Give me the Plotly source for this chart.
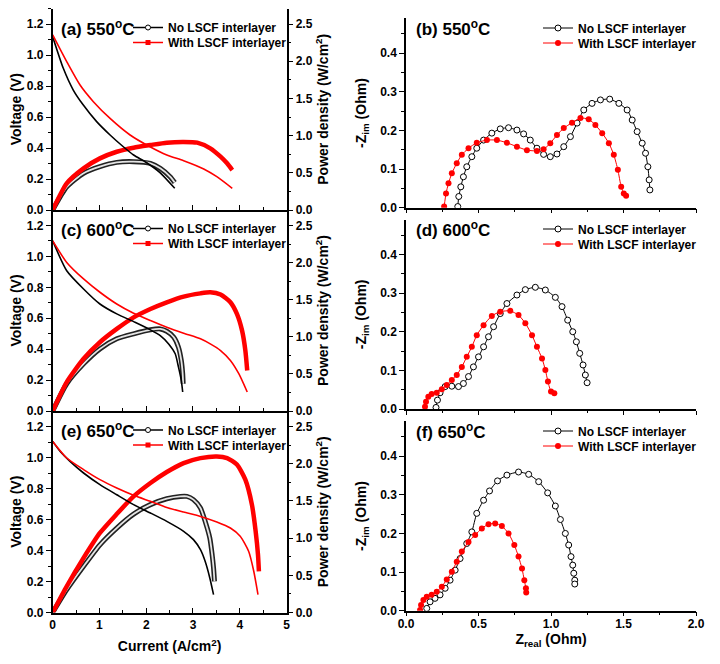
import plotly.graph_objects as go

FONT = "Liberation Sans, Arial, sans-serif"
W, H = 720, 664
OFF = 8  # page body margin offset of the rendered figure
RED = "#ff0000"

# ---------------- I-V-P data (current A/cm2, voltage V, power W/cm2) ----------------
# 550 C
a_no_I = [0, 0.227, 0.44, 0.655, 0.94, 1.227, 1.51, 1.73, 2.01, 2.3, 2.61]
a_no_V = [1.118, 0.914, 0.774, 0.677, 0.57, 0.484, 0.408, 0.355, 0.305, 0.24, 0.14]
a_with_I = [0, 0.3, 0.585, 0.87, 1.227, 1.655, 2.08, 2.44, 2.8, 3.23, 3.51, 3.84]
a_with_V = [1.13, 0.957, 0.806, 0.699, 0.591, 0.484, 0.408, 0.355, 0.318, 0.265, 0.215, 0.14]
a_no_PI = [0, 0.3, 0.66, 1.01, 1.37, 1.73, 2.09, 2.3, 2.51, 2.61]
a_no_P = [0, 0.31, 0.494, 0.583, 0.64, 0.65, 0.627, 0.56, 0.448, 0.37]
a_with_PI = [0, 0.3, 0.66, 1.01, 1.37, 1.73, 2.09, 2.44, 2.8, 3.09, 3.37, 3.59, 3.73, 3.84]
a_with_P = [0, 0.358, 0.56, 0.694, 0.783, 0.837, 0.873, 0.905, 0.915, 0.905, 0.829, 0.717, 0.627, 0.537]

# 600 C
c_no_I = [0, 0.3, 0.66, 1.01, 1.37, 1.76, 2.09, 2.3, 2.48, 2.62, 2.69, 2.75, 2.78]
c_no_V = [1.10, 0.907, 0.789, 0.692, 0.628, 0.574, 0.525, 0.488, 0.434, 0.37, 0.284, 0.198, 0.123]
c_with_I = [0, 0.3, 0.66, 1.01, 1.37, 1.73, 2.09, 2.44, 2.8, 3.16, 3.37, 3.59, 3.8, 3.98, 4.16]
c_with_V = [1.10, 0.961, 0.854, 0.768, 0.692, 0.632, 0.585, 0.542, 0.503, 0.467, 0.434, 0.391, 0.327, 0.241, 0.123]
c_no_PI = [0, 0.3, 0.66, 1.01, 1.37, 1.73, 2.09, 2.3, 2.44, 2.59, 2.69, 2.75, 2.78, 2.79]
c_no_P = [0, 0.367, 0.635, 0.837, 0.973, 1.04, 1.094, 1.106, 1.075, 0.994, 0.86, 0.681, 0.502, 0.367]
c_with_PI = [0, 0.3, 0.66, 1.01, 1.37, 1.73, 2.09, 2.44, 2.8, 3.16, 3.37, 3.59, 3.8, 3.94, 4.05, 4.12, 4.16]
c_with_P = [0, 0.39, 0.704, 0.927, 1.106, 1.262, 1.375, 1.465, 1.542, 1.585, 1.6, 1.569, 1.465, 1.308, 1.083, 0.815, 0.546]

# 650 C
e_no_I = [0, 0.157, 0.37, 0.66, 1.01, 1.37, 1.73, 2.09, 2.44, 2.8, 3.01, 3.16, 3.26, 3.36, 3.44]
e_no_V = [1.104, 1.04, 0.975, 0.9, 0.825, 0.76, 0.696, 0.642, 0.588, 0.524, 0.47, 0.405, 0.33, 0.223, 0.115]
e_with_I = [0, 0.3, 0.66, 1.01, 1.37, 1.73, 2.09, 2.44, 2.8, 3.16, 3.51, 3.8, 4.01, 4.19, 4.3, 4.39]
e_with_V = [1.104, 0.997, 0.922, 0.857, 0.803, 0.756, 0.717, 0.678, 0.648, 0.62, 0.584, 0.545, 0.492, 0.395, 0.266, 0.115]
e_no_PI = [0, 0.3, 0.66, 1.01, 1.37, 1.73, 2.09, 2.44, 2.73, 2.87, 3.01, 3.16, 3.26, 3.36, 3.41, 3.44, 3.46]
e_no_P = [0, 0.306, 0.621, 0.91, 1.135, 1.323, 1.45, 1.529, 1.56, 1.56, 1.517, 1.404, 1.225, 1.0, 0.777, 0.598, 0.419]
e_with_PI = [0, 0.3, 0.66, 1.01, 1.37, 1.73, 2.09, 2.44, 2.8, 3.16, 3.51, 3.73, 3.94, 4.12, 4.26, 4.34, 4.39, 4.41]
e_with_P = [0, 0.352, 0.733, 1.069, 1.323, 1.56, 1.74, 1.888, 2.008, 2.075, 2.098, 2.075, 1.988, 1.785, 1.45, 1.092, 0.777, 0.554]

# ---------------- Impedance data (Zreal, -Zim in Ohm) ----------------
b_no_Zr = [0.357, 0.364, 0.378, 0.396, 0.419, 0.454, 0.488, 0.535, 0.592, 0.65, 0.707, 0.765, 0.811, 0.857,
           0.903, 0.949, 0.995, 1.041, 1.088, 1.134, 1.18, 1.226, 1.283, 1.341, 1.405, 1.468, 1.525, 1.56,
           1.594, 1.629, 1.652, 1.668, 1.677, 1.682]
b_no_Zi = [0.003, 0.029, 0.054, 0.08, 0.106, 0.132, 0.154, 0.175, 0.193, 0.204, 0.207, 0.201, 0.191, 0.175,
           0.154, 0.138, 0.132, 0.139, 0.158, 0.184, 0.219, 0.253, 0.27, 0.279, 0.281, 0.27, 0.253, 0.227,
           0.197, 0.167, 0.141, 0.106, 0.072, 0.046]
b_with_Zr = [0.263, 0.276, 0.293, 0.316, 0.35, 0.385, 0.431, 0.488, 0.558, 0.627, 0.696, 0.765, 0.834, 0.903,
             0.949, 0.995, 1.041, 1.088, 1.145, 1.203, 1.26, 1.306, 1.353, 1.399, 1.433, 1.461, 1.484, 1.502, 1.518]
b_with_Zi = [0.003, 0.037, 0.063, 0.089, 0.115, 0.137, 0.154, 0.168, 0.175, 0.175, 0.168, 0.158, 0.149, 0.147,
             0.151, 0.167, 0.188, 0.206, 0.22, 0.232, 0.229, 0.214, 0.193, 0.167, 0.137, 0.098, 0.054, 0.037, 0.031]

d_no_Zr = [0.207, 0.217, 0.235, 0.27, 0.316, 0.362, 0.396, 0.431, 0.465, 0.5, 0.535, 0.569, 0.604, 0.65, 0.696,
           0.765, 0.823, 0.892, 0.961, 1.03, 1.076, 1.115, 1.15, 1.175, 1.198, 1.221, 1.237, 1.249]
d_no_Zi = [0.004, 0.023, 0.042, 0.058, 0.059, 0.058, 0.066, 0.084, 0.109, 0.135, 0.161, 0.187, 0.213, 0.247, 0.273,
           0.295, 0.309, 0.315, 0.308, 0.289, 0.265, 0.23, 0.2, 0.174, 0.144, 0.114, 0.088, 0.068]
d_with_Zr = [0.131, 0.138, 0.154, 0.177, 0.212, 0.247, 0.281, 0.316, 0.35, 0.385, 0.419, 0.454, 0.488, 0.535, 0.592,
             0.65, 0.719, 0.776, 0.823, 0.869, 0.903, 0.938, 0.961, 0.979, 1.0, 1.023]
d_with_Zi = [0.006, 0.019, 0.032, 0.039, 0.042, 0.051, 0.062, 0.075, 0.088, 0.109, 0.135, 0.161, 0.191, 0.217, 0.241,
             0.252, 0.254, 0.243, 0.222, 0.191, 0.161, 0.131, 0.101, 0.071, 0.045, 0.041]

f_no_Zr = [0.143, 0.166, 0.2, 0.235, 0.27, 0.304, 0.339, 0.373, 0.419, 0.454, 0.488, 0.535, 0.576, 0.631, 0.696,
           0.776, 0.846, 0.915, 0.977, 1.03, 1.065, 1.099, 1.122, 1.138, 1.15, 1.157, 1.164, 1.164]
f_no_Zi = [0.006, 0.023, 0.032, 0.041, 0.058, 0.079, 0.105, 0.135, 0.174, 0.204, 0.252, 0.286, 0.31, 0.336, 0.351,
           0.359, 0.353, 0.334, 0.305, 0.271, 0.236, 0.2, 0.17, 0.14, 0.118, 0.097, 0.079, 0.069]
f_with_Zr = [0.097, 0.104, 0.12, 0.143, 0.177, 0.212, 0.247, 0.281, 0.316, 0.35, 0.385, 0.431, 0.477, 0.523, 0.569,
             0.615, 0.661, 0.707, 0.747, 0.776, 0.8, 0.816, 0.827, 0.829]
f_with_Zi = [0.002, 0.015, 0.028, 0.036, 0.041, 0.049, 0.062, 0.081, 0.101, 0.127, 0.153, 0.178, 0.196, 0.213, 0.224,
             0.226, 0.219, 0.2, 0.17, 0.14, 0.109, 0.079, 0.058, 0.047]

panel_labels = ["(a) 550<sup>o</sup>C", "(c) 600<sup>o</sup>C", "(e) 650<sup>o</sup>C",
                "(b) 550<sup>o</sup>C", "(d) 600<sup>o</sup>C", "(f) 650<sup>o</sup>C"]
legend_names = ["No LSCF interlayer", "With LSCF interlayer"]


def px(p):
    return (p - OFF) / W


def py(p):
    return 1 - (p - OFF) / H


fig = go.Figure()

tickfont = dict(family=FONT, size=12, color="black", weight="bold")
titlefont = dict(family=FONT, size=14, color="black", weight="bold")
legfont = dict(family=FONT, size=12, color="black", weight="bold")

no_marker_leg = dict(symbol="circle", size=5, color="white", line=dict(color="black", width=1))
with_marker_leg = dict(symbol="square", size=5, color=RED)

leg_count = [0]


def add_legend(xpix, ypix):
    leg_count[0] += 1
    name = "legend" if leg_count[0] == 1 else "legend%d" % leg_count[0]
    fig.layout[name] = dict(x=px(xpix), y=py(ypix), xanchor="left", yanchor="middle",
                            bgcolor="rgba(0,0,0,0)", borderwidth=0, tracegroupgap=0,
                            font=legfont, itemwidth=30)
    return name


# ---------------- left panels ----------------
left = [
    ("x", "y", "y2", 8.5, 210.0,
     (a_no_I, a_no_V, a_with_I, a_with_V, a_no_PI, a_no_P, a_with_PI, a_with_P), 27.5),
    ("x2", "y3", "y4", 210.0, 411.0,
     (c_no_I, c_no_V, c_with_I, c_with_V, c_no_PI, c_no_P, c_with_PI, c_with_P), 228.5),
    ("x3", "y5", "y6", 411.0, 612.5,
     (e_no_I, e_no_V, e_with_I, e_with_V, e_no_PI, e_no_P, e_with_PI, e_with_P), 430),
]

for k, (xa, yP, yV, top, bot, d, laby) in enumerate(left):
    nI, nV, wI, wV, nPI, nP, wPI, wP = d
    # power density (base axis, right side)
    fig.add_trace(go.Scatter(x=nPI, y=nP, xaxis=xa, yaxis=yP, mode="lines",
                             line=dict(color="#222222", width=5, shape="spline", smoothing=0.6),
                             showlegend=False))
    fig.add_trace(go.Scatter(x=nPI, y=nP, xaxis=xa, yaxis=yP, mode="lines",
                             line=dict(color="#e4e4e4", width=1.8, shape="spline", smoothing=0.6),
                             showlegend=False))
    fig.add_trace(go.Scatter(x=wPI, y=wP, xaxis=xa, yaxis=yP, mode="lines",
                             line=dict(color=RED, width=4.5, shape="spline", smoothing=0.6),
                             showlegend=False))
    # voltage (overlay axis, left side)
    fig.add_trace(go.Scatter(x=nI, y=nV, xaxis=xa, yaxis=yV, mode="lines",
                             line=dict(color="black", width=1.6, shape="spline", smoothing=0.6),
                             showlegend=False))
    fig.add_trace(go.Scatter(x=wI, y=wV, xaxis=xa, yaxis=yV, mode="lines",
                             line=dict(color=RED, width=1.6, shape="spline", smoothing=0.6),
                             showlegend=False))
    # legend entries (one legend per row)
    lg1 = add_legend(128, laby)
    lg2 = add_legend(128, laby + 15)
    fig.add_trace(go.Scatter(x=[None], y=[None], xaxis=xa, yaxis=yV, mode="lines+markers",
                             name=legend_names[0], legend=lg1,
                             line=dict(color="black", width=1.5), marker=no_marker_leg))
    fig.add_trace(go.Scatter(x=[None], y=[None], xaxis=xa, yaxis=yV, mode="lines+markers",
                             name=legend_names[1], legend=lg2,
                             line=dict(color=RED, width=1.5), marker=with_marker_leg))

    ydom = [py(bot), py(top)]
    xnum = "" if xa == "x" else xa[1:]
    fig.layout["xaxis" + xnum] = dict(
        domain=[px(52.7), px(286.5)], range=[0, 5], anchor=yP, automargin=False,
        showline=True, linecolor="black", linewidth=1.5, mirror=False,
        ticks="inside", ticklen=5, tickwidth=1.2, tickcolor="black", dtick=1, tick0=0,
        minor=dict(ticks="inside", ticklen=3, dtick=0.5, tickcolor="black"),
        showgrid=False, zeroline=False, tickfont=tickfont,
        showticklabels=(k == 2),
        title=dict(text="Current (A/cm<sup>2</sup>)" if k == 2 else "", font=titlefont, standoff=11),
    )
    fig.layout["yaxis" + yP[1:]] = dict(
        domain=ydom, range=[0, 2.5 * 1.3 / 1.2], anchor=xa, side="right", automargin=False,
        showline=True, linecolor="black", linewidth=1.5,
        ticks="outside", ticklen=5, tickwidth=1.2, tickcolor="black", dtick=0.5, tick0=0,
        minor=dict(ticks="outside", ticklen=3, dtick=0.25, tickcolor="black"),
        showgrid=False, zeroline=False, tickfont=tickfont, tickformat=".1f",
        title=dict(text="Power density (W/cm<sup>2</sup>)", font=titlefont, standoff=4),
    )
    fig.layout["yaxis" + yV[1:]] = dict(
        domain=ydom, range=[0, 1.3], anchor=xa, side="left", overlaying=yP, automargin=False,
        showline=True, linecolor="black", linewidth=1.5,
        ticks="outside", ticklen=5, tickwidth=1.2, tickcolor="black", dtick=0.2, tick0=0,
        minor=dict(ticks="outside", ticklen=3, dtick=0.1, tickcolor="black"),
        showgrid=False, zeroline=False, tickfont=tickfont, tickformat=".1f",
        title=dict(text="Voltage (V)", font=titlefont, standoff=8),
    )
    fig.add_annotation(x=px(59), y=py(laby), xref="paper", yref="paper", xanchor="left",
                       yanchor="middle", showarrow=False, text=panel_labels[k],
                       font=dict(family=FONT, size=17, color="black", weight="bold"))

# ---------------- right panels ----------------
right = [
    ("x4", "y7", 18.4, 207.7, (b_no_Zr, b_no_Zi, b_with_Zr, b_with_Zi), 28),
    ("x5", "y8", 219.7, 409.0, (d_no_Zr, d_no_Zi, d_with_Zr, d_with_Zi), 229),
    ("x6", "y9", 421.4, 610.7, (f_no_Zr, f_no_Zi, f_with_Zr, f_with_Zi), 431),
]

for k, (xa, ya, top, bot, d, laby) in enumerate(right):
    nZr, nZi, wZr, wZi = d
    lg1 = add_legend(538, laby)
    lg2 = add_legend(538, laby + 15)
    fig.add_trace(go.Scatter(x=nZr, y=nZi, xaxis=xa, yaxis=ya, mode="lines+markers",
                             name=legend_names[0], legend=lg1,
                             line=dict(color="black", width=1, shape="spline", smoothing=0.6),
                             marker=dict(symbol="circle", size=6, color="white",
                                         line=dict(color="black", width=1))))
    fig.add_trace(go.Scatter(x=wZr, y=wZi, xaxis=xa, yaxis=ya, mode="lines+markers",
                             name=legend_names[1], legend=lg2,
                             line=dict(color=RED, width=1, shape="spline", smoothing=0.6),
                             marker=dict(symbol="circle", size=6, color=RED)))
    fig.layout["xaxis" + xa[1:]] = dict(
        domain=[px(406), px(696)], range=[0, 2], anchor=ya, automargin=False,
        showline=True, linecolor="black", linewidth=1.5,
        ticks="outside", ticklen=4, tickwidth=1.2, tickcolor="black", dtick=0.5, tick0=0,
        minor=dict(ticks="outside", ticklen=2.5, dtick=0.25, tickcolor="black"),
        showgrid=False, zeroline=False, tickfont=tickfont, tickformat=".1f",
        ticklabelstandoff=-3,
        showticklabels=(k == 2),
        title=dict(text="Z<sub>real</sub> (Ohm)" if k == 2 else "", font=titlefont, standoff=2),
    )
    fig.layout["yaxis" + ya[1:]] = dict(
        domain=[py(bot), py(top)], range=[0, 0.49], anchor=xa, automargin=False,
        showline=True, linecolor="black", linewidth=1.5,
        ticks="outside", ticklen=5, tickwidth=1.2, tickcolor="black", dtick=0.1, tick0=0,
        minor=dict(ticks="outside", ticklen=3, dtick=0.05, tickcolor="black"),
        showgrid=False, zeroline=False, tickfont=tickfont, tickformat=".1f",
        title=dict(text="-Z<sub>im</sub> (Ohm)", font=titlefont, standoff=10),
    )
    fig.add_annotation(x=px(414), y=py(laby), xref="paper", yref="paper", xanchor="left",
                       yanchor="middle", showarrow=False, text=panel_labels[3 + k],
                       font=dict(family=FONT, size=17, color="black", weight="bold"))

fig.update_layout(
    width=W, height=H, margin=dict(l=0, r=0, t=0, b=0, autoexpand=False),
    paper_bgcolor="white", plot_bgcolor="rgba(0,0,0,0)",
    font=dict(family=FONT, color="black"),
)

fig.write_html("out.html")
